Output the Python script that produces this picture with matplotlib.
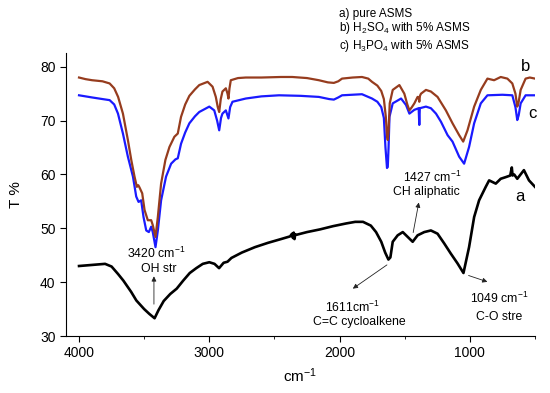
import numpy as np
import matplotlib
matplotlib.use("Agg")
import matplotlib.pyplot as plt
from matplotlib.ticker import MultipleLocator

plt.rcParams['font.family'] = ['Liberation Sans', 'DejaVu Sans']
plt.rcParams['mathtext.fontset'] = 'custom'
plt.rcParams['mathtext.rm'] = 'Liberation Sans'
plt.rcParams['mathtext.it'] = 'Liberation Sans:italic'
plt.rcParams['mathtext.default'] = 'regular'

# a) pure ASMS
wn_a = [4000, 3900, 3800, 3750, 3700, 3660, 3600, 3560, 3500, 3460, 3420, 3390, 3350, 3300,
        3250, 3200, 3150, 3100, 3050, 3000, 2960, 2925, 2890, 2860, 2830, 2750, 2650, 2550,
        2450, 2380, 2365, 2358, 2352, 2346, 2340, 2330, 2250, 2150, 2050, 1950, 1880, 1820,
        1760, 1720, 1680, 1650, 1625, 1610, 1592, 1554, 1515, 1477, 1439, 1401, 1350, 1299,
        1248, 1197, 1146, 1095, 1049, 1006, 967, 929, 878, 852, 801, 763, 725, 690, 678,
        672, 660, 636, 585, 546, 500]
t_a = [43.0, 43.2, 43.4, 42.9, 41.5, 40.3, 38.2, 36.6, 35.0, 34.1, 33.3, 34.8, 36.5, 37.8,
       38.8, 40.3, 41.7, 42.6, 43.4, 43.7, 43.4, 42.6, 43.6, 43.8, 44.5, 45.5, 46.5, 47.3,
       48.0, 48.5, 49.0, 48.2, 49.2, 48.0, 48.9, 48.8, 49.3, 49.8, 50.4, 50.9, 51.2, 51.2,
       50.5, 49.3, 47.5, 45.5, 44.2, 44.6, 47.5, 48.7, 49.3, 48.4, 47.5, 48.7, 49.3, 49.6,
       49.0, 47.2, 45.3, 43.5, 41.7, 46.5, 52.1, 55.2, 57.7, 58.9, 58.3, 59.2, 59.5, 59.8, 61.3,
       59.8, 60.0, 59.2, 60.8, 58.9, 57.7]

# b) H2SO4 with 5% ASMS
wn_b = [4000, 3950, 3900, 3820, 3765, 3730, 3700, 3663, 3625, 3599, 3574, 3556, 3545, 3536,
        3515, 3497, 3472, 3446, 3434, 3413, 3395, 3370, 3337, 3306, 3268, 3242, 3217, 3185,
        3153, 3110, 3077, 3013, 2975, 2950, 2935, 2924, 2912, 2899, 2873, 2860, 2853, 2845,
        2835, 2780, 2720, 2600, 2450, 2363, 2250, 2159, 2090, 2044, 2010, 1981, 1900, 1828,
        1780, 1751, 1710, 1680, 1660, 1645, 1635, 1630, 1624, 1615, 1592, 1541, 1503, 1480,
        1464, 1445, 1426, 1401, 1392, 1388, 1383, 1375, 1337, 1299, 1248, 1184, 1133, 1082,
        1051, 1018, 967, 916, 865, 814, 763, 712, 674, 650, 636, 625, 610, 572, 540, 500]
t_b = [78.0, 77.7, 77.5, 77.3, 76.9, 76.0, 74.4, 71.3, 66.4, 62.7, 59.6, 57.7, 58.0, 57.6,
       56.5, 53.4, 51.5, 51.5, 50.6, 48.4, 52.1, 58.3, 62.7, 65.1, 67.0, 67.6, 70.7, 73.0,
       74.6, 75.8, 76.6, 77.2, 76.3, 74.4, 72.5, 71.6, 74.0, 75.4, 76.0, 75.0, 74.1, 76.0,
       77.5, 77.9, 78.0, 78.0, 78.1, 78.1, 77.9, 77.5, 77.1, 77.0, 77.3, 77.8, 78.0, 78.1,
       77.8, 77.2, 76.5, 75.5, 74.0, 70.7, 67.0, 66.4, 68.0, 73.2, 75.7, 76.6, 75.0, 73.0,
       71.9, 72.5, 73.2, 74.4, 74.2, 73.5, 74.6, 75.0, 75.7, 75.4, 74.4, 71.9, 69.5, 67.3,
       66.1, 68.2, 72.6, 75.7, 77.8, 77.5, 78.1, 77.8, 76.9, 75.0, 72.6, 73.5, 75.7, 77.8, 78.0, 77.8]

# c) H3PO4 with 5% ASMS
wn_c = [4000, 3950, 3900, 3820, 3765, 3730, 3701, 3663, 3625, 3586, 3561, 3543, 3523, 3505,
        3484, 3464, 3446, 3434, 3413, 3395, 3370, 3332, 3293, 3260, 3242, 3217, 3185, 3153,
        3110, 3077, 3000, 2962, 2940, 2924, 2910, 2899, 2873, 2853, 2840, 2822, 2720, 2600,
        2465, 2300, 2159, 2080, 2044, 2010, 1981, 1828, 1751, 1710, 1680, 1660, 1648, 1636,
        1630, 1624, 1617, 1592, 1528, 1490, 1464, 1426, 1393, 1388, 1384, 1337, 1299, 1260,
        1222, 1171, 1133, 1082, 1044, 1006, 967, 916, 865, 750, 674, 650, 636, 625, 610, 572, 500]
t_c = [74.7, 74.5, 74.3, 74.0, 73.8, 73.0, 71.3, 67.6, 63.3, 59.6, 55.9, 54.9, 55.2, 52.1,
       49.6, 49.3, 50.3, 49.3, 46.5, 49.6, 55.2, 59.6, 62.0, 62.8, 63.0, 65.7, 67.8, 69.5,
       70.8, 71.6, 72.6, 71.9, 70.0, 68.2, 70.5, 71.3, 71.9, 70.4, 72.5, 73.5, 74.1, 74.5,
       74.7, 74.6, 74.4, 74.0, 73.9, 74.3, 74.7, 74.9, 74.1, 73.5, 72.5, 70.5, 65.1, 61.2,
       61.4, 65.0, 70.7, 73.2, 74.1, 72.9, 71.3, 72.0, 72.3, 69.2, 72.3, 72.6, 72.3, 71.3,
       69.8, 67.3, 66.1, 63.3, 62.0, 65.1, 69.5, 73.2, 74.7, 74.8, 74.7, 72.5, 70.1, 71.0, 73.2, 74.7, 74.7]

fig = plt.figure(figsize=(5.5, 3.93), dpi=100)
ax = fig.add_axes([0.12, 0.145, 0.8527, 0.7194])

ax.plot(wn_c, t_c, color='#1a1aff', lw=1.6)
ax.plot(wn_b, t_b, color='#963c1e', lw=1.6)
ax.plot(wn_a, t_a, color='black', lw=1.9)

ax.set_xlim(4100, 500)
ax.set_ylim(30, 82.5)
ax.xaxis.set_major_locator(MultipleLocator(1000))
ax.xaxis.set_minor_locator(MultipleLocator(500))
ax.yaxis.set_major_locator(MultipleLocator(10))
ax.spines['top'].set_visible(False)
ax.spines['right'].set_visible(False)
ax.tick_params(which='major', direction='out', length=4, labelsize=10)
ax.tick_params(which='minor', direction='out', length=2.5)
ax.set_xlabel('cm$^{-1}$', fontsize=11)
ax.set_ylabel('T %', fontsize=11)
ax.yaxis.set_label_coords(-0.092, 0.5)

# curve labels
ax.text(569, 80, 'b', fontsize=12, ha='center', va='center')
ax.text(521, 71.4, 'c', fontsize=12, ha='center', va='center')
ax.text(613, 55.9, 'a', fontsize=12, ha='center', va='center')

arrow = dict(arrowstyle='-|>', color='#222222', lw=0.6, mutation_scale=7)
fs = 8.8
ax.annotate('', xy=(3425, 41.6), xytext=(3425, 35.4), arrowprops=arrow)
ax.text(3408, 45.3, '3420 cm$^{-1}$', fontsize=fs, ha='center', va='center')
ax.text(3385, 42.5, 'OH str', fontsize=fs, ha='center', va='center')

ax.annotate('', xy=(1388, 55.3), xytext=(1439, 48.7), arrowprops=arrow)
ax.text(1288, 59.5, '1427 cm$^{-1}$', fontsize=fs, ha='center', va='center')
ax.text(1336, 56.8, 'CH aliphatic', fontsize=fs, ha='center', va='center')

ax.annotate('', xy=(1916, 38.5), xytext=(1619, 43.5), arrowprops=arrow)
ax.text(1904, 35.4, '1611cm$^{-1}$', fontsize=fs, ha='center', va='center')
ax.text(1845, 32.6, 'C=C cycloalkene', fontsize=fs, ha='center', va='center')

ax.annotate('', xy=(845, 39.9), xytext=(1030, 41.4), arrowprops=arrow)
ax.text(774, 37.0, '1049 cm$^{-1}$', fontsize=fs, ha='center', va='center')
ax.text(773, 33.6, 'C-O stre', fontsize=fs, ha='center', va='center')

# legend text at top
fs_leg = 8.5
fig.text(339 / 550, 1 - 13.5 / 393, 'a) pure ASMS', fontsize=fs_leg, va='center')
fig.text(339 / 550, 1 - 28 / 393, 'b) H$_2$SO$_4$ with 5% ASMS', fontsize=fs_leg, va='center')
fig.text(339 / 550, 1 - 46 / 393, 'c) H$_3$PO$_4$ with 5% ASMS', fontsize=fs_leg, va='center')

fig.savefig('out.png', dpi=100)
